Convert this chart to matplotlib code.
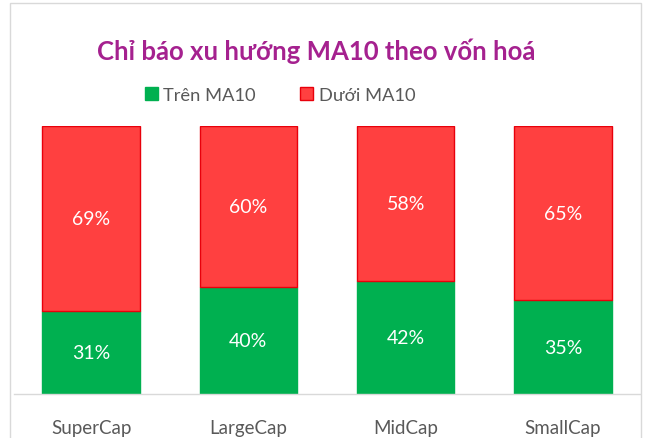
import matplotlib
matplotlib.use("Agg")
import matplotlib.pyplot as plt
from matplotlib.patches import Rectangle, Patch

categories = ["SuperCap", "LargeCap", "MidCap", "SmallCap"]
tren = [31, 40, 42, 35]
duoi = [69, 60, 58, 65]
series_names = ["Trên MA10", "Dưới MA10"]
title = "Chỉ báo xu hướng MA10 theo vốn hoá"

green = "#00B050"
red = "#FF4040"
red_edge = "#E8000B"
txt = "#595959"

plt.rcParams['font.family'] = ['Lato', 'DejaVu Sans']

fig = plt.figure(figsize=(6.45, 4.39), dpi=100)
W, H = 645, 439
ax = fig.add_axes([14 / W, 1 - 395 / H, (640 - 14) / W, (395 - 127) / H])

x = list(range(len(categories)))
width = 0.62
ax.bar(x, tren, width, color=green, edgecolor=green, linewidth=1, zorder=2)
ax.bar(x, duoi, width, bottom=tren, color=red, edgecolor=red_edge, linewidth=1, zorder=2)

for i in x:
    ax.text(i, tren[i] / 2, f"{tren[i]}%", ha="center", va="center", color="white", fontsize=14)
    ax.text(i, tren[i] + duoi[i] / 2, f"{duoi[i]}%", ha="center", va="center", color="white", fontsize=14)

ax.set_xlim(-0.49, 3.49)
ax.set_ylim(0, 100)
ax.set_yticks([])
ax.set_xticks(x)
ax.set_xticklabels(categories, fontsize=13.5, color=txt)
ax.tick_params(axis="x", length=0, pad=18)
for s in ["top", "left", "right"]:
    ax.spines[s].set_visible(False)
ax.spines["bottom"].set_color("#D9D9D9")
ax.spines["bottom"].set_linewidth(1)
ax.patch.set_alpha(0)

fig.text(316 / W, 1 - 51 / H, title, ha="center", va="center", fontsize=18.5,
         fontweight="bold", color="#A5218F")

handles = [Patch(facecolor=green, edgecolor=green), Patch(facecolor=red, edgecolor=red_edge)]
leg = fig.legend(handles, series_names, loc="center", bbox_to_anchor=(280 / W, 1 - 96 / H),
                 ncol=2, frameon=False, fontsize=13.2, handlelength=0.72, handleheight=0.72,
                 handletextpad=0.3, columnspacing=2.4, labelcolor=txt)

fig.patches.append(Rectangle((10 / W, -0.05), (641 - 10) / W, 1.05 - 4 / H, transform=fig.transFigure,
                             fill=False, edgecolor="#D9D9D9", linewidth=1))

fig.savefig("out.png", dpi=100)
